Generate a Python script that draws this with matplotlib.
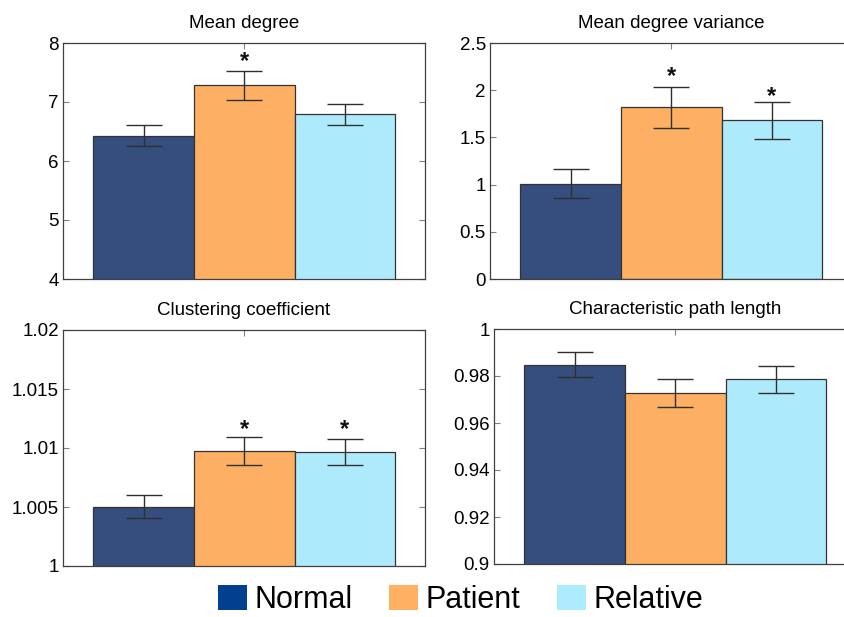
import matplotlib
matplotlib.use("Agg")
import matplotlib.pyplot as plt
from matplotlib.patches import Patch

plt.rcParams['font.family'] = ['Liberation Sans', 'DejaVu Sans']

groups = ["Normal", "Patient", "Relative"]
titles = ["Mean degree", "Mean degree variance", "Clustering coefficient", "Characteristic path length"]
means = [
    [6.43, 7.28, 6.79],
    [1.01, 1.82, 1.68],
    [1.00502, 1.00977, 1.00966],
    [0.9848, 0.9726, 0.9786],
]
errs = [
    [0.175, 0.25, 0.18],
    [0.15, 0.217, 0.196],
    [0.00096, 0.0012, 0.0011],
    [0.0054, 0.006, 0.0057],
]
# significance star positions (None = no star)
stars = [
    [None, 7.76, None],
    [None, 2.185, 1.974],
    [None, 1.01189, 1.01189],
    [None, None, None],
]
ylims = [(4, 8), (0, 2.5), (1, 1.02), (0.9, 1.0)]
yticks = [
    [4, 5, 6, 7, 8],
    [0, 0.5, 1, 1.5, 2, 2.5],
    [1, 1.005, 1.01, 1.015, 1.02],
    [0.9, 0.92, 0.94, 0.96, 0.98, 1],
]
ytick_labels = [
    ["4", "5", "6", "7", "8"],
    ["0", "0.5", "1", "1.5", "2", "2.5"],
    ["1", "1.005", "1.01", "1.015", "1.02"],
    ["0.9", "0.92", "0.94", "0.96", "0.98", "1"],
]
bar_colors = ["#354E7D", "#FDB063", "#ADEBFC"]
legend_colors = ["#00408F", "#FFB062", "#ADEBFF"]

W, H = 845, 617
fig = plt.figure(figsize=(W / 100, H / 100), dpi=100)
boxes = [
    (63, 279, 362, 236),
    (490, 279, 362, 236),
    (63, 566, 362, 236),
    (494, 564, 362, 235),
]
axcol = "#404040"
x = [1, 2, 3]
for i, (l, b, w, h) in enumerate(boxes):
    ax = fig.add_axes([l / W, 1 - b / H, w / W, h / H])
    ax.bar(x, means[i], width=1.0, color=bar_colors, edgecolor="#333333", linewidth=0.9, zorder=2)
    ax.errorbar(x, means[i], yerr=errs[i], fmt="none", ecolor="#303030", elinewidth=1.0,
                capsize=13, capthick=1.0, zorder=3)
    for xi, s in zip(x, stars[i]):
        if s is not None:
            ax.annotate("*", xy=(xi, s), xytext=(0, -4), textcoords="offset pixels",
                        ha="center", va="center", fontsize=17, fontweight="bold",
                        color="#111111", zorder=4)
    ax.set_xlim(0.2, 3.795)
    ax.set_ylim(*ylims[i])
    ax.set_yticks(yticks[i])
    ax.set_yticklabels(ytick_labels[i])
    ax.set_xticks([2])
    ax.set_xticklabels([])
    ax.tick_params(direction="in", top=True, right=True, length=4, width=0.8, color="#808080",
                   labelsize=13.5, pad=3)
    for sp in ax.spines.values():
        sp.set_color(axcol)
        sp.set_linewidth(0.9)
    ax.set_title(titles[i], fontsize=13.5, pad=10.5)

handles = [Patch(facecolor=c, edgecolor="none") for c in legend_colors]
fig.legend(handles, groups, loc="center", bbox_to_anchor=(0.545, 1 - 600 / H), ncol=3, frameon=False,
           fontsize=22, handlelength=0.95, handleheight=0.9, handletextpad=0.25, columnspacing=1.2,
           borderpad=0, borderaxespad=0)

fig.savefig("out.png", dpi=100, facecolor="white")
